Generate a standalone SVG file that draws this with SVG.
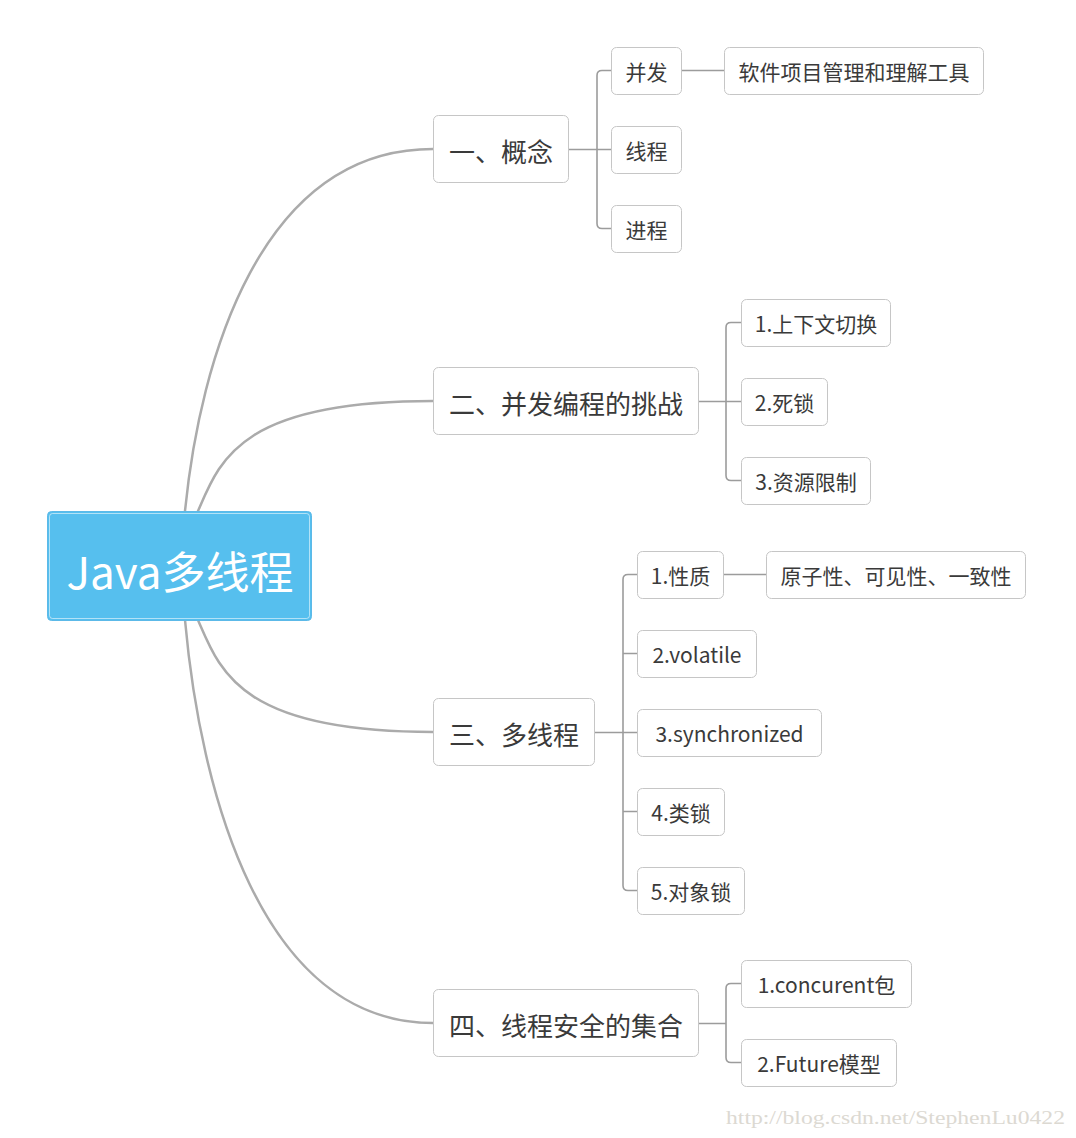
<svg xmlns="http://www.w3.org/2000/svg" width="1076" height="1138" viewBox="0 0 1076 1138">
<style>
.bg{fill:#ffffff}
.box{fill:#ffffff;stroke:#c6c6c6;stroke-width:1}
.t1{font-family:"Noto Sans CJK SC","Noto Sans",sans-serif;font-size:26px;fill:#3a3a3a;text-anchor:middle}
.t2{font-family:"Noto Sans CJK SC","Noto Sans",sans-serif;font-size:21px;fill:#3a3a3a;text-anchor:middle}
.curve{fill:none;stroke:#ababab;stroke-width:2.5;stroke-linecap:round}
.elbow{fill:none;stroke:#9c9c9c;stroke-width:1.6}
.wm{font-family:"Liberation Serif","DejaVu Serif",serif;font-size:19px;fill:#dcd9d2}
</style>
<rect class="bg" x="0" y="0" width="1076" height="1138"/>
<g id="connectors">
<path class="curve" d="M185,511 C200,360 260,149 433,149"/>
<path class="curve" d="M198,511 C220,460 240,401 433,401"/>
<path class="curve" d="M198,620 C220,671 240,732 433,732"/>
<path class="curve" d="M185,620 C200,788 260,1023 433,1023"/>
<path class="elbow" d="M568,149.5 H611 M611,70.5 H602 Q597,70.5 597,75.5 V223.5 Q597,228.5 602,228.5 H611"/>
<path class="elbow" d="M681,70.5 H724"/>
<path class="elbow" d="M698,401.5 H741 M741,322.5 H731 Q726,322.5 726,327.5 V475.5 Q726,480.5 731,480.5 H741"/>
<path class="elbow" d="M594,732.5 H637 M637,574.5 H628 Q623,574.5 623,579.5 V885.5 Q623,890.5 628,890.5 H637 M623,653.5 H637 M623,811.5 H637"/>
<path class="elbow" d="M723,574.5 H766"/>
<path class="elbow" d="M698,1023.5 H726 M741,983.5 H731 Q726,983.5 726,988.5 V1057.5 Q726,1062.5 731,1062.5 H741"/>
</g>
<g id="root">
<rect x="47.5" y="511.5" width="264" height="109" rx="4" fill="#56bfee" stroke="#5cb9e8" stroke-width="1"/>
<rect x="49.5" y="513.5" width="260" height="105" rx="3" fill="none" stroke="#ffffff" stroke-opacity="0.55" stroke-width="1"/>
<text x="180" y="589" font-family="'Noto Sans CJK SC','Noto Sans',sans-serif" font-size="44" fill="#ffffff" text-anchor="middle">Java多线程</text>
</g>
<g id="n1"><rect class="box" x="433.5" y="115.5" width="135" height="67" rx="5"/><text class="t1" x="501" y="162">一、概念</text></g>
<g id="n1a"><rect class="box" x="611.5" y="47.5" width="70" height="47" rx="5"/><text class="t2" x="646.5" y="80">并发</text></g>
<g id="n1a1"><rect class="box" x="724.5" y="47.5" width="259" height="47" rx="5"/><text class="t2" x="854" y="80">软件项目管理和理解工具</text></g>
<g id="n1b"><rect class="box" x="611.5" y="126.5" width="70" height="47" rx="5"/><text class="t2" x="646.5" y="159">线程</text></g>
<g id="n1c"><rect class="box" x="611.5" y="205.5" width="70" height="47" rx="5"/><text class="t2" x="646.5" y="238">进程</text></g>
<g id="n2"><rect class="box" x="433.5" y="367.5" width="265" height="67" rx="5"/><text class="t1" x="566" y="414">二、并发编程的挑战</text></g>
<g id="n2a"><rect class="box" x="741.5" y="299.5" width="149" height="47" rx="5"/><text class="t2" x="816" y="332">1.上下文切换</text></g>
<g id="n2b"><rect class="box" x="741.5" y="378.5" width="86" height="47" rx="5"/><text class="t2" x="784.5" y="411">2.死锁</text></g>
<g id="n2c"><rect class="box" x="741.5" y="457.5" width="129" height="47" rx="5"/><text class="t2" x="806" y="490">3.资源限制</text></g>
<g id="n3"><rect class="box" x="433.5" y="698.5" width="161" height="67" rx="5"/><text class="t1" x="514" y="745">三、多线程</text></g>
<g id="n3a"><rect class="box" x="637.5" y="551.5" width="86" height="47" rx="5"/><text class="t2" x="680.5" y="584">1.性质</text></g>
<g id="n3a1"><rect class="box" x="766.5" y="551.5" width="259" height="47" rx="5"/><text class="t2" x="896" y="584">原子性、可见性、一致性</text></g>
<g id="n3b"><rect class="box" x="637.5" y="630.5" width="119" height="47" rx="5"/><text class="t2" x="697" y="663">2.volatile</text></g>
<g id="n3c"><rect class="box" x="637.5" y="709.5" width="184" height="47" rx="5"/><text class="t2" x="729.5" y="742">3.synchronized</text></g>
<g id="n3d"><rect class="box" x="637.5" y="788.5" width="87" height="47" rx="5"/><text class="t2" x="681" y="821">4.类锁</text></g>
<g id="n3e"><rect class="box" x="637.5" y="867.5" width="107" height="47" rx="5"/><text class="t2" x="691" y="900">5.对象锁</text></g>
<g id="n4"><rect class="box" x="433.5" y="989.5" width="265" height="67" rx="5"/><text class="t1" x="566" y="1036">四、线程安全的集合</text></g>
<g id="n4a"><rect class="box" x="741.5" y="960.5" width="170" height="47" rx="5"/><text class="t2" x="826.5" y="993">1.concurent包</text></g>
<g id="n4b"><rect class="box" x="741.5" y="1039.5" width="155" height="47" rx="5"/><text class="t2" x="819" y="1072">2.Future模型</text></g>
<text class="wm" x="726" y="1124" textLength="339" lengthAdjust="spacingAndGlyphs">http://blog.csdn.net/StephenLu0422</text>
</svg>
